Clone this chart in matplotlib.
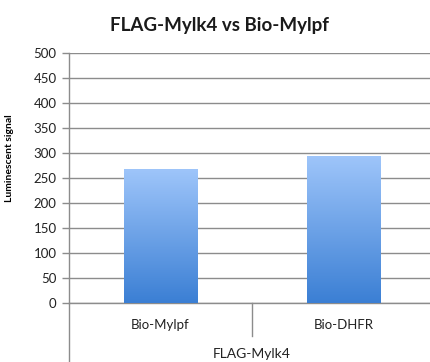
import numpy as np
import matplotlib
matplotlib.use("Agg")
import matplotlib.pyplot as plt
from matplotlib.colors import LinearSegmentedColormap
from matplotlib.transforms import blended_transform_factory

plt.rcParams['font.family'] = ['Lato', 'DejaVu Sans']

# signal per biotinylated bait, FLAG-Mylk4 prey
categories = ['Bio-Mylpf', 'Bio-DHFR']
signal = [267, 293]
group_label = 'FLAG-Mylk4'
yticks = [0, 50, 100, 150, 200, 250, 300, 350, 400, 450, 500]

grid_col = '#8c8c8c'
text_col = '#222222'
bar_cmap = LinearSegmentedColormap.from_list('bluefade', ['#3b7fd4', '#9ec5fa'])

fig = plt.figure(figsize=(4.3, 3.62), dpi=100)
ax = fig.add_axes([0.1605, 0.1638, 0.851, 0.689])

x = np.arange(len(categories))
bars = ax.bar(x, signal, width=0.40, color='none', edgecolor='none', zorder=3)

# vertical gradient fill inside each bar
grad = np.linspace(0, 1, 256).reshape(-1, 1)
for b in bars:
    x0, y0 = b.get_x(), b.get_y()
    ax.imshow(grad, cmap=bar_cmap, origin='lower', aspect='auto',
              extent=[x0, x0 + b.get_width(), y0, y0 + b.get_height()], zorder=3)

ax.set_xlim(-0.5, len(categories) - 0.5)
ax.set_ylim(0, 500)
ax.set_yticks(yticks)
ax.set_yticklabels([str(v) for v in yticks], fontsize=9.5, color=text_col)
ax.yaxis.grid(True, color=grid_col, lw=1.0, zorder=1)
ax.set_axisbelow(True)

ax.set_xticks(x)
ax.set_xticklabels(categories, fontsize=9.5, color=text_col)
ax.tick_params(axis='x', length=0, pad=12)
ax.tick_params(axis='y', length=5, color=grid_col, width=1, pad=4)

for side in ['top', 'right']:
    ax.spines[side].set_visible(False)
ax.spines['left'].set_color(grid_col)
ax.spines['bottom'].set_color(grid_col)
ax.spines['left'].set_linewidth(1)
ax.spines['bottom'].set_linewidth(1)

# category divider and the left axis running down past the labels
tr = blended_transform_factory(ax.transData, ax.transAxes)
for k in range(1, len(categories)):
    ax.plot([k - 0.5, k - 0.5], [0, -0.135], transform=tr, color=grid_col,
            lw=1, clip_on=False)
ax.plot([-0.5, -0.5], [0, -0.25], transform=tr, color=grid_col, lw=1, clip_on=False)
ax.text((len(categories) - 1) / 2, -0.207, group_label, transform=tr,
        ha='center', va='center', fontsize=10, color=text_col)

ax.set_ylabel('Luminescent signal', fontsize=7.5, fontweight='bold', labelpad=6)
ax.yaxis.set_label_coords(-0.15, 0.58)
fig.text(0.51, 0.93, 'FLAG-Mylk4 vs Bio-Mylpf', ha='center', va='center',
         fontsize=13.5, fontweight='bold', color='#1a1a1a')

fig.savefig('out.png', dpi=100)
